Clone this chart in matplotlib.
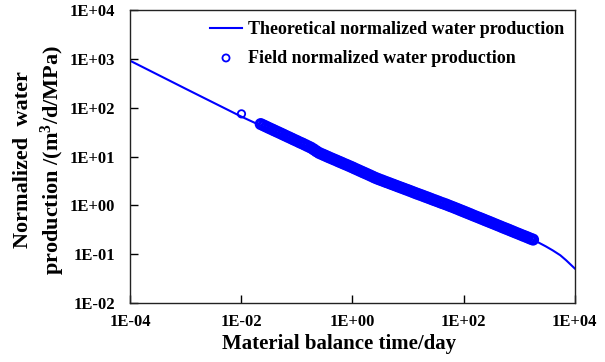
import matplotlib
matplotlib.use("Agg")
import matplotlib.pyplot as plt

# Theoretical normalized water production curve
theory_t = [1e-4, 2e-4, 5e-4, 1e-3, 2e-3, 5e-3, 1e-2, 0.03, 0.1, 0.3, 1, 3, 10, 30, 100, 300,
            1000, 1500, 2000, 3000, 4000, 5500, 7000, 1e4]
theory_q = [920, 618, 365, 245, 165, 98, 66, 37, 20, 10.5, 6.0, 3.4, 2.05, 1.2, 0.75, 0.45,
            0.26, 0.215, 0.185, 0.145, 0.12, 0.095, 0.075, 0.051]

# Field normalized water production
field_t = [0.0101,
           0.0224, 0.0251, 0.0282, 0.0316, 0.0355, 0.0398, 0.0447, 0.0501, 0.0562, 0.0631,
           0.0708, 0.0794, 0.0891, 0.100, 0.112, 0.126, 0.141, 0.158, 0.178, 0.200,
           0.224, 0.251, 0.282, 0.316, 0.355, 0.398, 0.447, 0.501, 0.562, 0.631,
           0.708, 0.794, 0.891, 1.00, 1.12, 1.26, 1.41, 1.58, 1.78, 2.00,
           2.24, 2.51, 2.82, 3.16, 3.55, 3.98, 4.47, 5.01, 5.62, 6.31,
           7.08, 7.94, 8.91, 10.0, 11.2, 12.6, 14.1, 15.8, 17.8, 20.0,
           22.4, 25.1, 28.2, 31.6, 35.5, 39.8, 44.7, 50.1, 56.2, 63.1,
           70.8, 79.4, 89.1, 100, 112, 126, 141, 158, 178, 200,
           224, 251, 282, 316, 355, 398, 447, 501, 562, 631,
           708, 794, 891, 1000, 1122, 1259, 1413, 1585, 1778]
field_q = [75,
           46.3, 43.6, 41.0, 38.5, 36.2, 34.1, 32.1, 30.2, 28.4, 26.7,
           25.1, 23.6, 22.2, 20.9, 19.6, 18.5, 17.4, 16.3, 15.3, 14.1,
           12.9, 11.9, 11.2, 10.6, 9.98, 9.44, 8.91, 8.43, 7.96, 7.53,
           7.11, 6.73, 6.35, 6.00, 5.65, 5.32, 5.01, 4.73, 4.46, 4.20,
           3.95, 3.72, 3.52, 3.35, 3.19, 3.03, 2.89, 2.75, 2.62, 2.49,
           2.37, 2.26, 2.15, 2.05, 1.95, 1.85, 1.76, 1.68, 1.60, 1.52,
           1.45, 1.38, 1.31, 1.25, 1.19, 1.13, 1.08, 1.03, 0.976, 0.929,
           0.881, 0.836, 0.792, 0.752, 0.713, 0.676, 0.641, 0.607, 0.575, 0.546,
           0.518, 0.491, 0.466, 0.442, 0.419, 0.397, 0.376, 0.356, 0.338, 0.321,
           0.304, 0.288, 0.273, 0.259, 0.245, 0.233, 0.221, 0.209, 0.199]

x_ticks = [1e-4, 1e-2, 1e0, 1e2, 1e4]
x_labels = ["1E-04", "1E-02", "1E+00", "1E+02", "1E+04"]
y_ticks = [1e-2, 1e-1, 1e0, 1e1, 1e2, 1e3, 1e4]
y_labels = ["1E-02", "1E-01", "1E+00", "1E+01", "1E+02", "1E+03", "1E+04"]

plt.rcParams['font.family'] = ['Liberation Serif', 'DejaVu Serif']
plt.rcParams['font.weight'] = 'bold'
plt.rcParams['mathtext.fontset'] = 'custom'
plt.rcParams['mathtext.rm'] = 'Liberation Serif:bold'
plt.rcParams['mathtext.it'] = 'Liberation Serif:bold'
plt.rcParams['mathtext.bf'] = 'Liberation Serif:bold'

fig = plt.figure(figsize=(6.05, 3.62), dpi=100)
ax = fig.add_axes([0.215, 0.163, 0.735, 0.809])

ax.plot(theory_t, theory_q, color='#0000ff', lw=1.5,
        label='Theoretical normalized water production')
n = len(field_t)
ax.scatter(field_t, field_q, marker='o', s=[28] + [42] * (n - 1),
           facecolors='none', edgecolors='#0000ff',
           linewidths=[1.3] + [2.2] * (n - 1),
           label='Field normalized water production', zorder=3)

ax.set_xscale('log')
ax.set_yscale('log')
ax.set_xlim(1e-4, 1e4)
ax.set_ylim(1e-2, 1e4)
ax.set_xticks(x_ticks)
ax.set_xticklabels(x_labels)
ax.set_yticks(y_ticks)
ax.set_yticklabels(y_labels)
ax.minorticks_off()
ax.tick_params(axis='both', which='major', direction='in', length=6, width=1,
               labelsize=12)
ax.tick_params(axis='x', pad=8)
ax.tick_params(axis='y', pad=11)
for lab in ax.get_xticklabels() + ax.get_yticklabels():
    lab.set_fontweight('bold')
for s in ax.spines.values():
    s.set_linewidth(1.0)
    s.set_color('#222222')

ax.set_xlabel('Material balance time/day', fontsize=15, fontweight='bold', labelpad=2)
ax.xaxis.set_label_coords(0.471, -0.105)
ax.set_ylabel('Normalized  water\nproduction /(m$^3$/d/MPa)', fontsize=16,
              fontweight='bold', linespacing=1.3)
ax.yaxis.set_label_coords(-0.142, 0.49)

leg = ax.legend(loc='upper right', frameon=False, fontsize=13, handlelength=1.8,
                handletextpad=0.3, borderaxespad=0.2, labelspacing=0.65,
                scatterpoints=1)
for t in leg.get_texts():
    t.set_fontweight('bold')
h = leg.legend_handles[1]
h.set_sizes([26])
h.set_linewidths([1.3])

fig.savefig('out.png', dpi=100)
